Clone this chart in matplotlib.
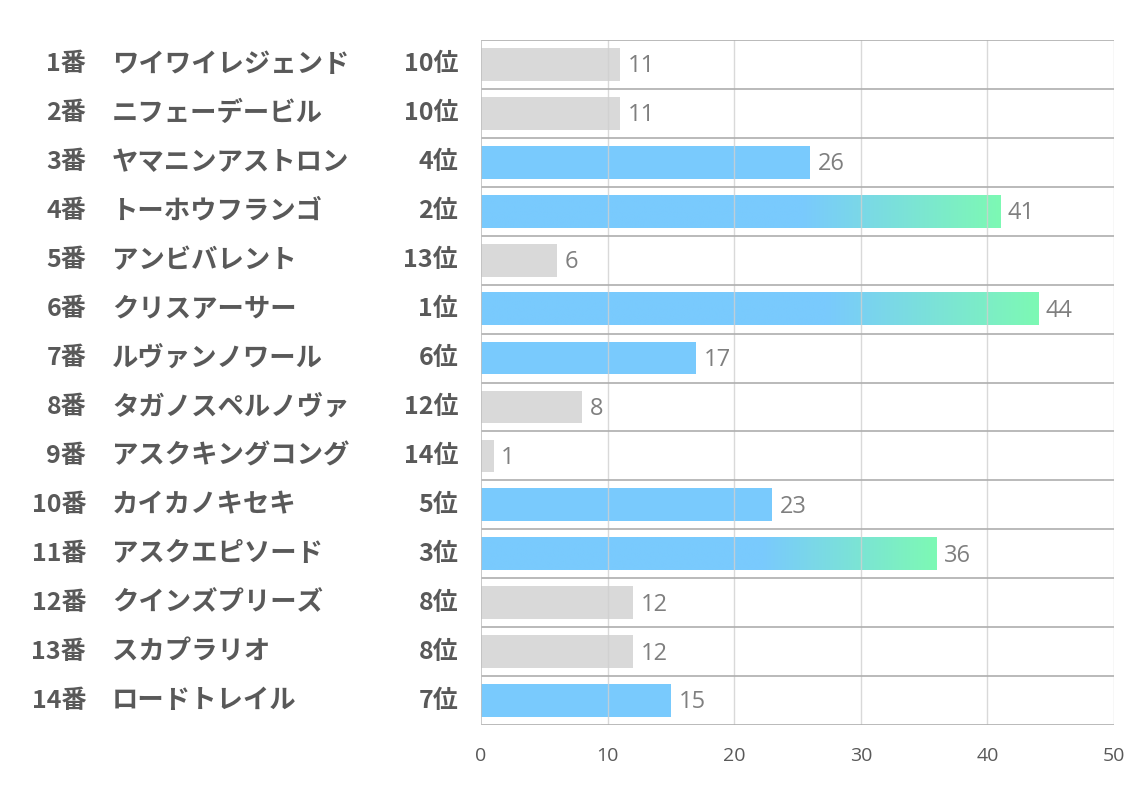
import matplotlib
matplotlib.use("Agg")
import matplotlib.pyplot as plt
import matplotlib.transforms as mtransforms
from matplotlib.colors import LinearSegmentedColormap
import numpy as np

plt.rcParams['font.family'] = ['Noto Sans CJK JP', 'DejaVu Sans']

numbers = ['1番', '2番', '3番', '4番', '5番', '6番', '7番',
           '8番', '9番', '10番', '11番', '12番', '13番', '14番']
names = ['ワイワイレジェンド', 'ニフェーデービル', 'ヤマニンアストロン', 'トーホウフランゴ',
         'アンビバレント', 'クリスアーサー', 'ルヴァンノワール', 'タガノスペルノヴァ',
         'アスクキングコング', 'カイカノキセキ', 'アスクエピソード', 'クインズプリーズ',
         'スカプラリオ', 'ロードトレイル']
ranks = [10, 10, 4, 2, 13, 1, 6, 12, 14, 5, 3, 8, 8, 7]
values = [11, 11, 26, 41, 6, 44, 17, 8, 1, 23, 36, 12, 12, 15]
xticks = [0, 10, 20, 30, 40, 50]

blue = '#79CAFD'
green = '#7DF9B4'
gray = '#D9D9D9'
text_col = '#595959'

fig = plt.figure(figsize=(11.34, 7.93), dpi=100)
ax = fig.add_axes([481 / 1134, 68 / 793, 633 / 1134, 685 / 793])

y = np.arange(len(values))
bh = 0.67
colors = [blue if r <= 7 else gray for r in ranks]
ax.barh(y, values, height=bh, color=colors, zorder=2)

# gradient overlay for top 3
cmap = LinearSegmentedColormap.from_list('g', [(0, blue), (0.62, blue), (1, green)])
grad = np.linspace(0, 1, 256).reshape(1, -1)
for yi, v, r in zip(y, values, ranks):
    if r <= 3:
        ax.imshow(grad, cmap=cmap, extent=(0, v, yi + bh / 2, yi - bh / 2),
                  aspect='auto', zorder=2.5, interpolation='bilinear')

for yi, v in zip(y, values):
    ax.text(v + 0.6, yi + 0.04, str(v), va='center', ha='left', fontsize=17,
            color='#7F7F7F', family=['Open Sans', 'DejaVu Sans'], zorder=4)

ax.set_xlim(0, 50)
ax.set_ylim(len(values) - 0.5, -0.5)
ax.set_xticks(xticks)
ax.set_yticks([])
for xv in xticks[1:]:
    ax.axvline(xv, color='#D0D0D0', lw=1, zorder=3, alpha=0.8)
for b in np.arange(len(values) + 1) - 0.5:
    ax.axhline(b, color='#AEAEAE', lw=1.2, zorder=3)
ax.axvline(0, color='#BFBFBF', lw=1.2, zorder=3)
for s in ax.spines.values():
    s.set_visible(False)
ax.tick_params(axis='x', length=0, pad=16, labelsize=14, labelcolor=text_col)
for lbl in ax.get_xticklabels():
    lbl.set_fontfamily(['Open Sans', 'DejaVu Sans'])

tr = mtransforms.blended_transform_factory(fig.transFigure, ax.transData)
for yi, n, nm, r in zip(y, numbers, names, ranks):
    ax.text(86 / 1134, yi, n, transform=tr, ha='right', va='center',
            fontsize=18, fontweight='bold', color=text_col)
    ax.text(112 / 1134, yi, nm, transform=tr, ha='left', va='center',
            fontsize=19, fontweight='bold', color=text_col)
    ax.text(458 / 1134, yi, f'{r}位', transform=tr, ha='right', va='center',
            fontsize=18, fontweight='bold', color=text_col)

fig.savefig('out.png', dpi=100)
